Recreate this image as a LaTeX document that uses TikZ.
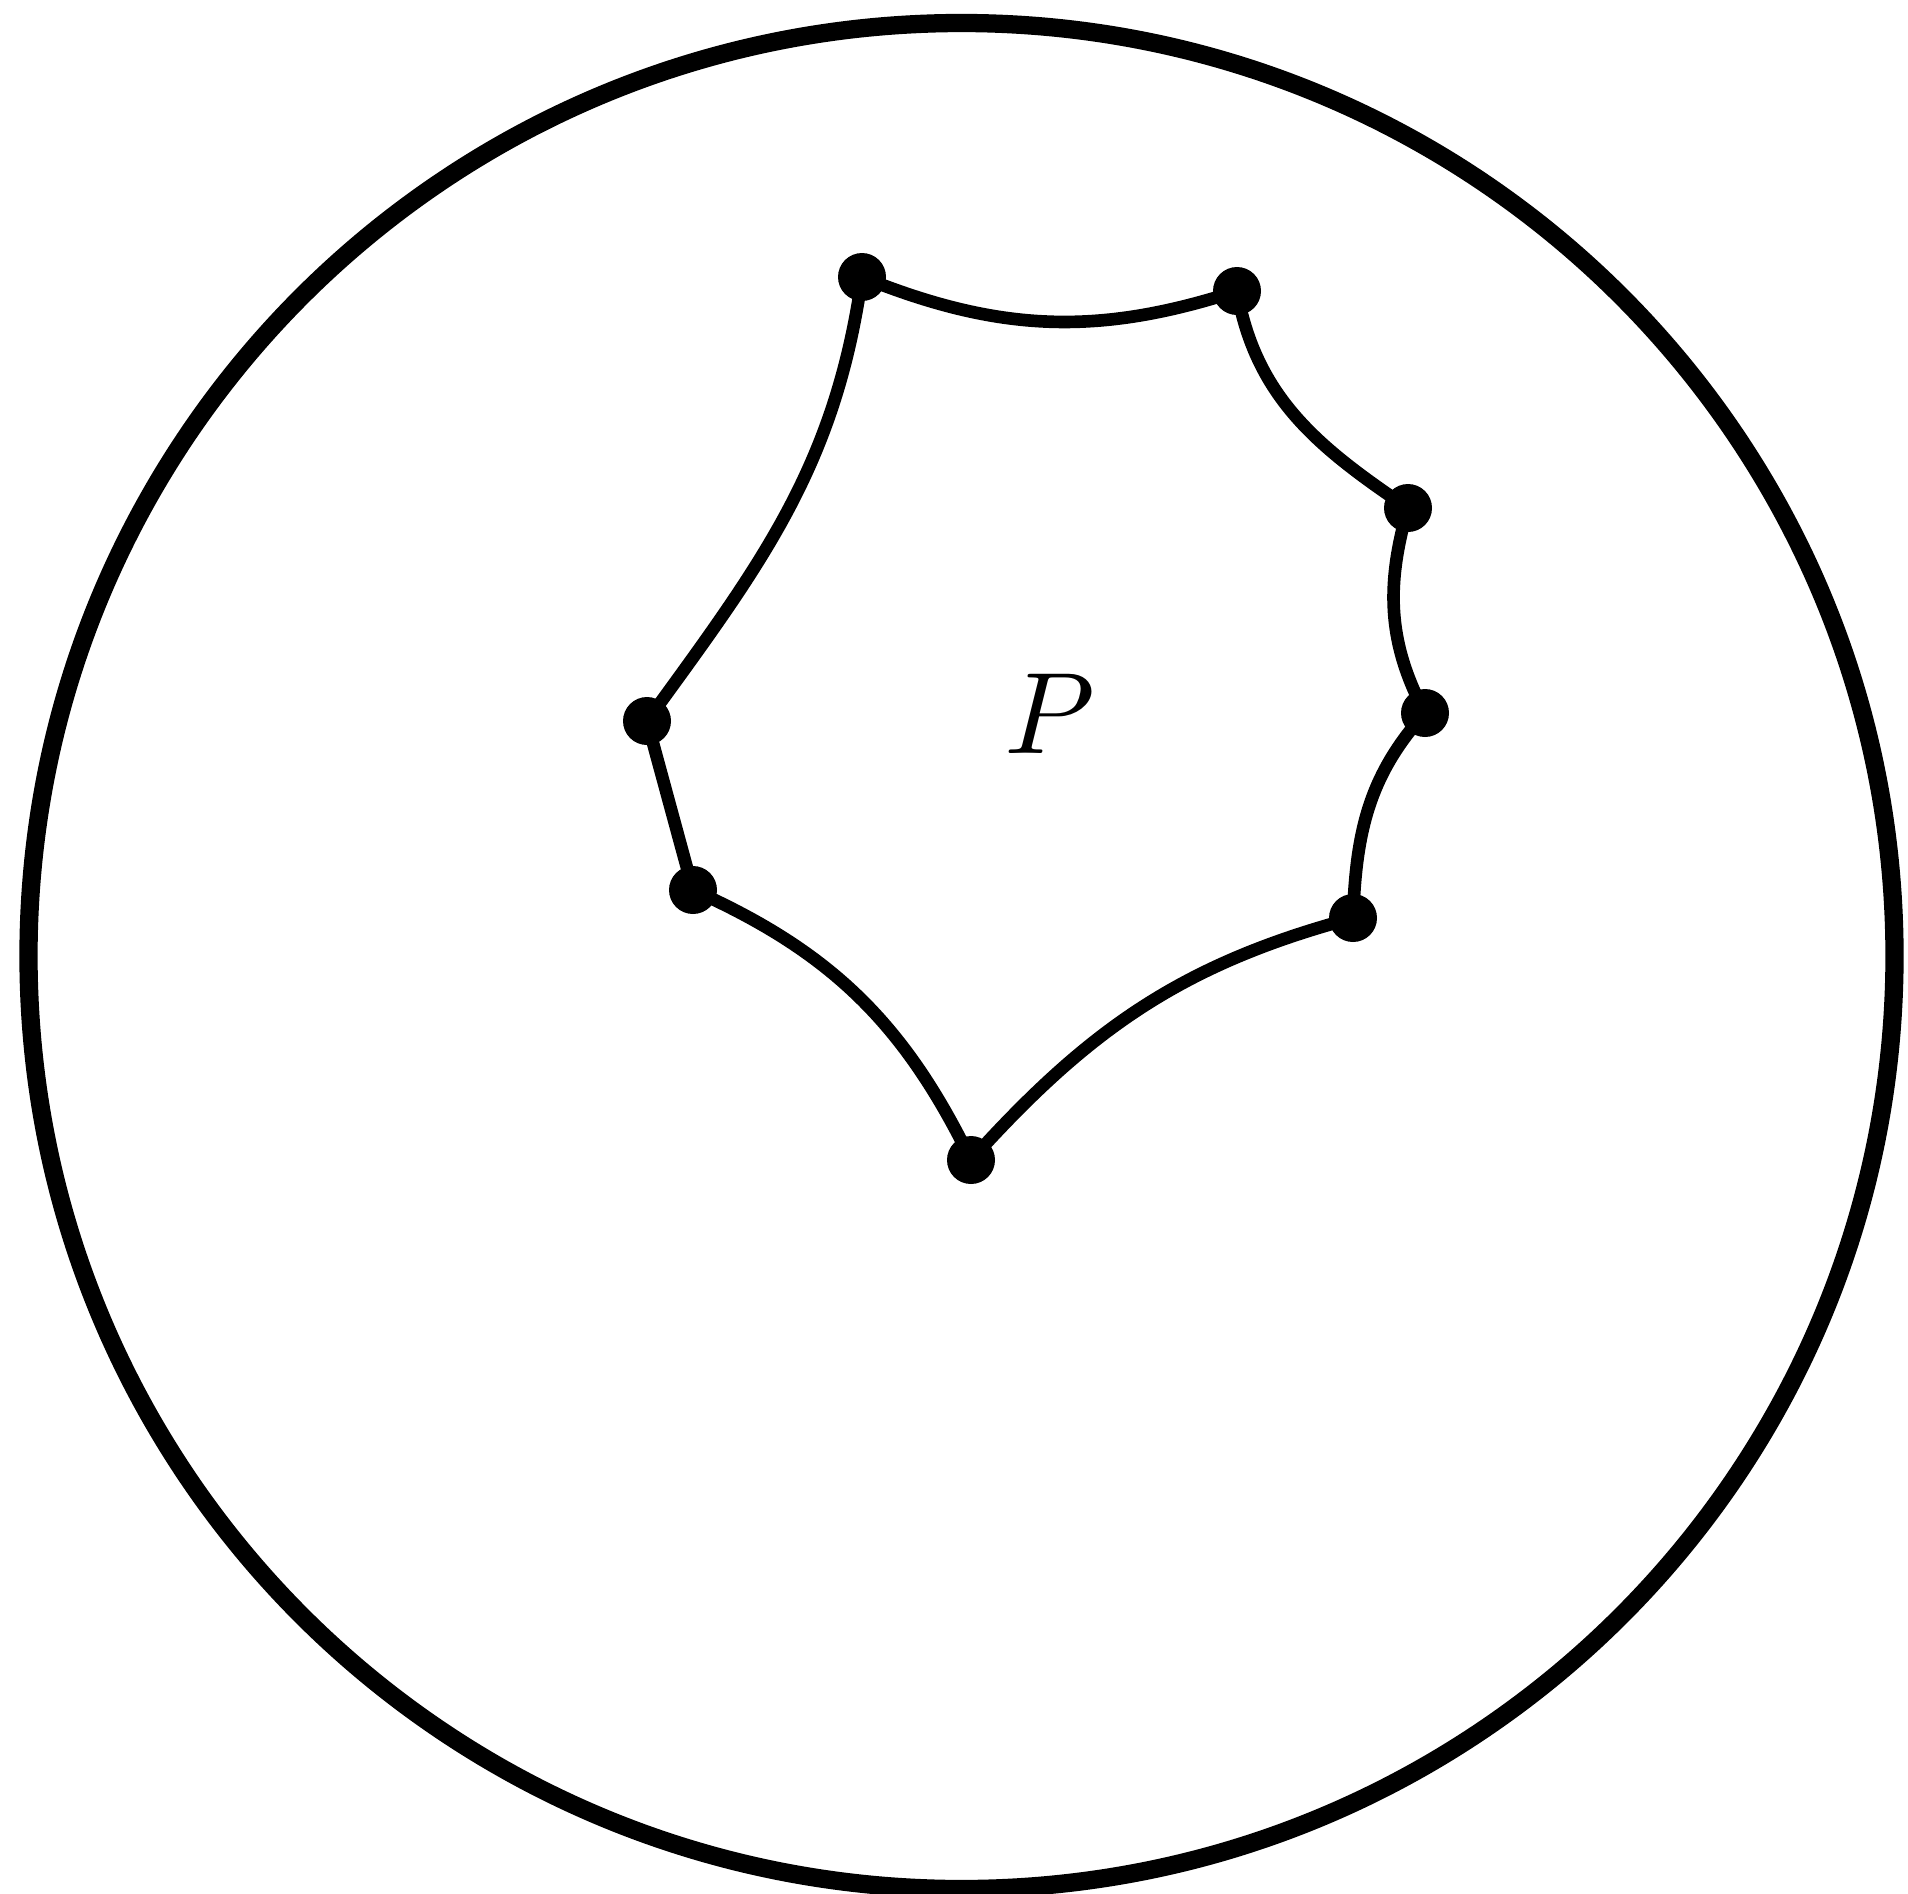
\documentclass[tikz,border=0pt]{standalone}
\usepackage{tikz}
\begin{document}
\begin{tikzpicture}[vertex/.style={circle,fill,inner sep=0pt,minimum size=4.8mm},edge/.style={line width=3.6pt,line join=round}]
\useasboundingbox (0,0) rectangle (19.08,-18.93);
\draw[line width=5.2pt] (9.615,-9.56) circle (9.33);
\node[vertex] (v1) at (8.62,-2.77) {};
\node[vertex] (v2) at (12.37,-2.91) {};
\node[vertex] (v3) at (14.08,-5.08) {};
\node[vertex] (v4) at (14.25,-7.13) {};
\node[vertex] (v5) at (13.53,-9.18) {};
\node[vertex] (v6) at (9.71,-11.60) {};
\node[vertex] (v7) at (6.93,-8.90) {};
\node[vertex] (v8) at (6.47,-7.21) {};
\draw[edge] (v1.center) to[out=-22,in=198] (v2.center) to[out=-80,in=146] (v3.center) to[out=-106,in=118] (v4.center) to[out=-132,in=88] (v5.center) to[out=195,in=48] (v6.center) to[out=116,in=-24] (v7.center) -- (v8.center) to[out=54,in=-98] (v1.center);
\node[scale=3.3] (p) at (10.50,-7.14) {$P$};
\end{tikzpicture}
\end{document}
